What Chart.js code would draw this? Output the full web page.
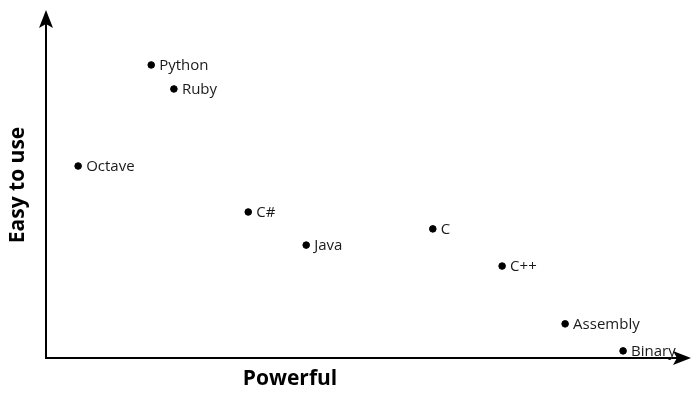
<!DOCTYPE html>
<html>
<head>
<meta charset="utf-8">
<script src="https://cdn.jsdelivr.net/npm/chart.js@4"></script>
<style>
  html, body { margin: 0; padding: 0; background: #fff; }
  #wrap { width: 700px; height: 395px; }
</style>
</head>
<body>
<div id="wrap"><canvas id="myChart"></canvas></div>
<script>
const languages = ["Python", "Ruby", "Octave", "C#", "Java", "C", "C++", "Assembly", "Binary"];
const powerful  = [1.67, 2.03, 0.51, 3.21, 4.13, 6.14, 7.24, 8.24, 9.16];
const easyToUse = [8.67, 7.96, 5.68, 4.32, 3.34, 3.82, 2.72, 1.01, 0.21];
const xTitle = "Powerful";
const yTitle = "Easy to use";

const FONT = "'Open Sans', 'Noto Sans', sans-serif";

// arrows, axis titles and point labels
const decorations = {
  id: 'decorations',
  afterDatasetsDraw(chart) {
    const ctx = chart.ctx;
    const a = chart.chartArea;
    ctx.save();
    ctx.strokeStyle = '#000';
    ctx.fillStyle = '#000';
    ctx.lineWidth = 2;
    // y axis
    ctx.beginPath();
    ctx.moveTo(a.left, a.bottom);
    ctx.lineTo(a.left, a.top - 2);
    ctx.stroke();
    ctx.beginPath();
    ctx.moveTo(a.left, a.top - 10);
    ctx.lineTo(a.left - 7, a.top + 8);
    ctx.lineTo(a.left, a.top + 4);
    ctx.lineTo(a.left + 7, a.top + 8);
    ctx.closePath();
    ctx.fill();
    // x axis
    ctx.beginPath();
    ctx.moveTo(a.left - 1, a.bottom);
    ctx.lineTo(a.right + 5, a.bottom);
    ctx.stroke();
    ctx.beginPath();
    ctx.moveTo(a.right + 15, a.bottom);
    ctx.lineTo(a.right - 3, a.bottom - 7);
    ctx.lineTo(a.right + 1, a.bottom);
    ctx.lineTo(a.right - 3, a.bottom + 7);
    ctx.closePath();
    ctx.fill();

    // point labels
    ctx.font = "15px " + FONT;
    ctx.textAlign = 'left';
    ctx.textBaseline = 'middle';
    ctx.fillStyle = '#1a1a1a';
    chart.getDatasetMeta(0).data.forEach((pt, i) => {
      ctx.fillText(languages[i], pt.x + 8, pt.y + 1);
    });

    // axis titles
    ctx.fillStyle = '#000';
    ctx.font = "bold 21px " + FONT;
    ctx.textAlign = 'center';
    ctx.fillText(xTitle, 290, 379);
    ctx.translate(18, 185);
    ctx.rotate(-Math.PI / 2);
    ctx.fillText(yTitle, 0, 0);
    ctx.restore();
  }
};

const ctx = document.getElementById('myChart').getContext('2d');
const myChart = new Chart(ctx, {
  type: 'scatter',
  data: {
    datasets: [{
      data: powerful.map((x, i) => ({ x: x, y: easyToUse[i] })),
      backgroundColor: '#000',
      borderColor: '#000',
      pointRadius: 3.3,
      pointHoverRadius: 3.3
    }]
  },
  options: {
    responsive: true,
    maintainAspectRatio: false,
    animation: false,
    events: [],
    layout: { padding: { left: 46, top: 20, right: 24, bottom: 37 } },
    plugins: {
      legend: { display: false },
      tooltip: { enabled: false }
    },
    scales: {
      x: { type: 'linear', min: 0, max: 10, display: false },
      y: { type: 'linear', min: 0, max: 10, display: false }
    }
  },
  plugins: [decorations]
});
</script>
</body>
</html>
